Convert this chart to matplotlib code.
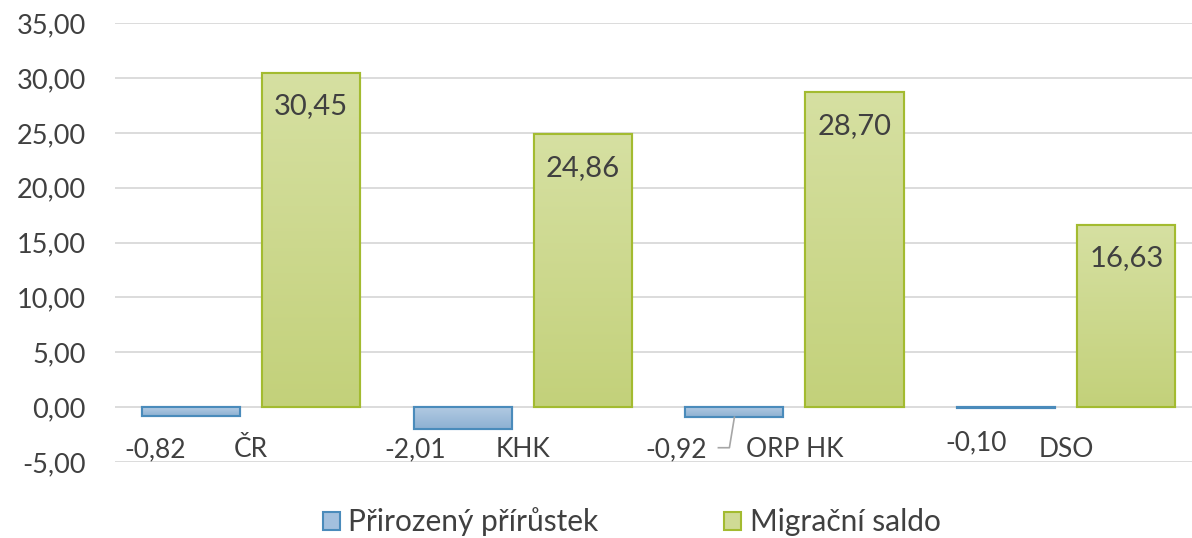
import matplotlib
matplotlib.use("Agg")
import matplotlib.pyplot as plt
import numpy as np
from matplotlib.colors import LinearSegmentedColormap
from matplotlib.patches import Rectangle

plt.rcParams['font.family'] = ['Lato', 'DejaVu Sans']

categories = ["ČR", "KHK", "ORP HK", "DSO"]
prirozeny = [-0.82, -2.01, -0.92, -0.10]
migracni = [30.45, 24.86, 28.70, 16.63]
series_names = ["Přirozený přírůstek", "Migrační saldo"]
yticks = [-5, 0, 5, 10, 15, 20, 25, 30, 35]

TXT = "#404040"
fig = plt.figure(figsize=(11.92, 5.38), dpi=100)
ax = fig.add_axes([0.0965, 0.1413, 0.912, 0.8157])

x = np.arange(len(categories))
w = 0.361
off = 0.221
cat_px = 0.912 * 1192 / 4

blue_cm = LinearSegmentedColormap.from_list("b", ["#b3cbe3", "#8db0d2"])
green_cm = LinearSegmentedColormap.from_list("g", ["#d6e0a2", "#c3d17a"])

b1 = ax.bar(x - off, prirozeny, w, color="#9dbcdc", edgecolor="#4a8bbb", linewidth=1.5, zorder=3)
b2 = ax.bar(x + off, migracni, w, color="#cbd78c", edgecolor="#a3bb30", linewidth=1.5, zorder=3)

grad = np.linspace(0, 1, 256).reshape(-1, 1)
for bars, cm in ((b1, blue_cm), (b2, green_cm)):
    for r in bars:
        x0, y0 = r.get_x(), r.get_y()
        ww, hh = r.get_width(), r.get_height()
        lo, hi = min(y0, y0 + hh), max(y0, y0 + hh)
        im = ax.imshow(grad, cmap=cm, aspect="auto", extent=(x0, x0 + ww, lo, hi),
                       origin="upper", zorder=3.5)
        clip = Rectangle((x0, y0), ww, hh, transform=ax.transData)
        im.set_clip_path(clip)
        edge = Rectangle((x0, y0), ww, hh, fill=False, edgecolor=r.get_edgecolor(),
                         linewidth=1.5, zorder=4)
        ax.add_patch(edge)

ax.set_xlim(-0.5, 3.5)
ax.set_ylim(-5, 35)
ax.set_yticks(yticks)
ax.set_yticklabels([f"{v:.2f}".replace(".", ",") for v in yticks], fontsize=19.5, color=TXT)
ax.tick_params(axis="y", length=0, pad=21)
ax.set_xticks([])
ax.grid(axis="y", color="#d9d9d9", linewidth=1.3, zorder=0)
for s in ax.spines.values():
    s.set_visible(False)

# category labels between 0 and -5
for i, c in enumerate(categories):
    ax.text(x[i], -3.9, c, ha="center", va="center", fontsize=19, color=TXT)

# green value labels inside top
for i, v in enumerate(migracni):
    ax.annotate(f"{v:.2f}".replace(".", ","), (x[i] + off, v), xytext=(0, -24),
                textcoords="offset points", ha="center", va="center",
                fontsize=21, color=TXT, zorder=5)

# blue value labels (manually moved in the original)
lab_dx = [-36, -47, -58, -30]
lab_dy = [-3.9, -3.9, -3.9, -3.25]
for i, v in enumerate(prirozeny):
    ax.annotate(f"{v:.2f}".replace(".", ","), xy=(x[i] - off, v),
                xytext=(x[i] - off + lab_dx[i] / cat_px, lab_dy[i]),
                ha="center", va="center", fontsize=19, color=TXT, zorder=5)
# leader line for ORP HK
ax.plot([x[2] - off, x[2] - off - 5 / cat_px, x[2] - off - 16 / cat_px],
        [prirozeny[2], -3.7, -3.7], color="#a6a6a6", linewidth=1.2, zorder=5)

handles = [Rectangle((0, 0), 1, 1, facecolor="#a3c0de", edgecolor="#4a8bbb", linewidth=1.5),
           Rectangle((0, 0), 1, 1, facecolor="#cfda95", edgecolor="#a3bb30", linewidth=1.5)]
fig.legend(handles, series_names, loc="center", bbox_to_anchor=(0.53, 0.03),
           ncol=2, frameon=False, fontsize=21.5, handlelength=0.57, handleheight=0.57,
           handletextpad=0.3, columnspacing=4.2, labelcolor=TXT)

fig.savefig("out.png", dpi=100)
